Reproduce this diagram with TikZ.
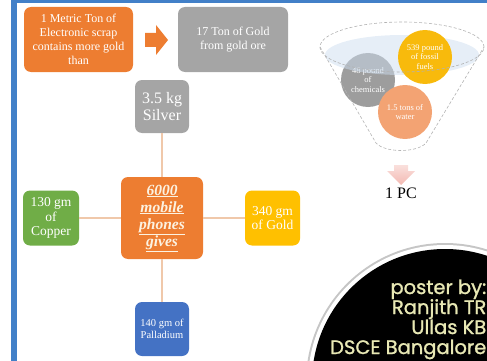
\documentclass[tikz,border=0pt]{standalone}
\usepackage{fontspec}
\setmainfont{Liberation Serif}
\newfontfamily\posterfont[UprightFeatures={FakeBold=1.2}]{Poppins}
\usetikzlibrary{shapes,arrows}
\usetikzlibrary{arrows.meta,positioning}
\definecolor{myBar}{RGB}{66,128,200}
\definecolor{myOrange}{RGB}{237,125,49}
\definecolor{myGray}{RGB}{165,165,165}
\definecolor{myGold}{RGB}{255,192,0}
\definecolor{myGreen}{RGB}{112,173,71}
\definecolor{myBlue}{RGB}{68,114,196}
\definecolor{myLine}{RGB}{240,200,170}
\definecolor{myCream}{RGB}{252,242,225}
\definecolor{myPink}{RGB}{243,185,178}
\definecolor{myGlass}{RGB}{205,222,240}
\definecolor{mySalmon}{RGB}{243,163,115}
\definecolor{myYellow}{RGB}{248,186,12}
\definecolor{myCredit}{RGB}{232,232,180}

\tikzset{
  box/.style={rounded corners=7pt, text=white, align=center, inner sep=0pt},
  link/.style={myLine, line width=1.4pt},
  ball/.style={circle, minimum size=54pt, inner sep=0pt, text=white, align=center,
               font=\fontsize{8.5}{9.5}\selectfont},
  rim/.style={gray!60, densely dashed, line width=0.6pt}
}

\begin{document}
\begin{tikzpicture}[x=1pt,y=-1pt]
                \useasboundingbox (0,0) rectangle (487,361);
                \fill[myBar] (11,0) rectangle (17,361);
                \fill[myBar] (11,0) rectangle (487,3);

                \node[box, fill=myOrange, minimum width=109pt, minimum height=65pt,
                      font=\fontsize{12}{14}\selectfont] (scrap) at (78.5,39.5)
                      {1 Metric Ton of\\Electronic scrap\\contains more gold\\than};
                \node[box, fill=myGray, minimum width=110pt, minimum height=65pt,
                      font=\fontsize{12}{14}\selectfont] (ore) at (233,39.5)
                      {17 Ton of Gold\\from gold ore};
                \fill[myOrange] (145,33) -- (156,33) -- (156,25) -- (168,40)
                      -- (156,55) -- (156,47) -- (145,47) -- cycle;

                \node[box, fill=myGray, minimum width=54pt, minimum height=53pt,
                      font=\fontsize{16}{17}\selectfont] (silver) at (162,106.5)
                      {3.5 kg\\Silver};
                \node[box, fill=myOrange, minimum width=82pt, minimum height=82pt, text=myCream,
                      font=\fontsize{15.5}{17}\selectfont\bfseries\itshape] (phones) at (162,218)
                      {\underline{6000}\\\underline{mobile}\\\underline{phones}\\\underline{gives}};
                \node[box, fill=myGreen, minimum width=56pt, minimum height=55pt,
                      font=\fontsize{13.5}{14.5}\selectfont] (copper) at (51,218)
                      {130 gm\\of\\Copper};
                \node[box, fill=myGold, minimum width=55pt, minimum height=55pt,
                      font=\fontsize{13.5}{14.5}\selectfont] (gold) at (272.5,218)
                      {340 gm\\of Gold};
                \node[box, fill=myBlue, minimum width=54pt, minimum height=54pt,
                      font=\fontsize{10.5}{11.5}\selectfont] (palladium) at (162,329)
                      {140 gm of\\Palladium};

                \draw[link] (silver) -- (phones);
                \draw[link] (phones) -- (palladium);
                \draw[link] (copper) -- (phones);
                \draw[link] (phones) -- (gold);

                \fill[white, fill opacity=0.4] (320,47) -- (376,143) .. controls (385,153) and (417,153) .. (426,143) -- (484,47) -- cycle;
                \node[ball, fill=myGray!95!black] (chem) at (368,80) {48 pound\\of\\chemicals};
                \fill[myGlass, fill opacity=0.5] (402,55) ellipse (77pt and 20pt);
                \node[ball, fill=myYellow] (fuel) at (425,57) {539 pound\\of fossil\\fuels};
                \node[ball, fill=mySalmon] (water) at (405,112) {1.5 tons of\\water};
                \draw[rim] (402,47) ellipse (82pt and 25pt);
                \draw[rim] (320,47) -- (376,143) .. controls (385,153) and (417,153) .. (426,143) -- (484,47);

                \shade[top color=myPink!45, bottom color=myPink] (394,165) -- (408,165) -- (408,171)
                      -- (415,171) -- (401,185) -- (387,171) -- (394,171) -- cycle;
                \node[anchor=base, font=\fontsize{16}{18}\selectfont] (pc) at (401,198) {1 PC};

                \fill[gray!45] (445,382) circle (139pt);
                \fill[white] (445,382) circle (137pt);
                \fill[black] (445,382) circle (133pt);
                \node[anchor=base east, align=right, text=myCredit, inner sep=0pt,
                      font=\posterfont\fontsize{19.5}{20}\selectfont] (credits) at (486.5,354)
                      {poster by:\\Ranjith TR\\Ullas KB\\DSCE Bangalore};
            \end{tikzpicture}
\end{document}
